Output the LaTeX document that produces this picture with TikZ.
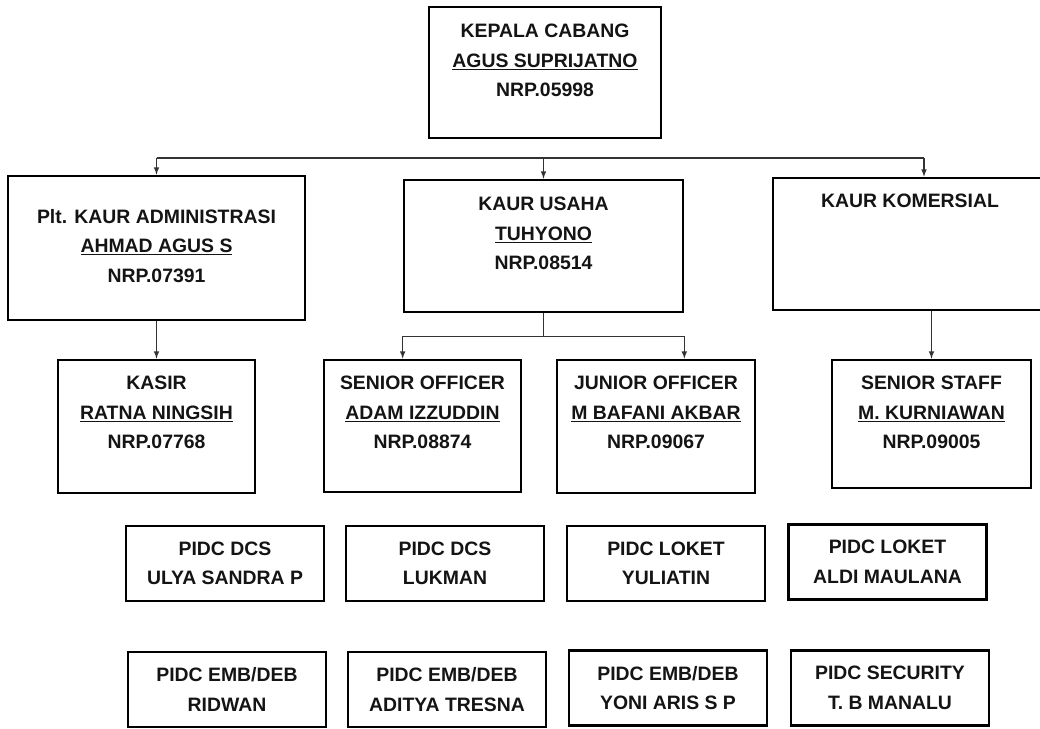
\documentclass[tikz,border=0pt]{standalone}
\usepackage{fontspec}
\setmainfont{Liberation Sans}
\usetikzlibrary{arrows, calc, positioning}
\tikzstyle{obox} = [%
  rectangle,
  draw=black,
  line width=1.9pt,
  fill=white,
  inner sep=0pt
]
\tikzstyle{otext} = [%
  align=center,
  inner sep=0pt,
  text=black!92,
  font=\bfseries\fontsize{13.8}{21}\selectfont
]

\begin{document}
\begin{tikzpicture}[%
  >=latex,
  conn/.style={draw=black!80, line width=0.8pt},
  big/.style={obox, minimum width=#1},
  pidc/.style={obox, otext, minimum width=4.95cm, minimum height=1.875cm}
]
  \useasboundingbox (0,0) rectangle (26,-18.225);
  \clip (0,0) rectangle (26,-18.225);

  % Nodes
  \node[big=5.8cm,minimum height=3.275cm] (KC) at (13.625,-1.8125) {};
  \node[big=7.425cm,minimum height=3.6cm] (ADM) at (3.9125,-6.2) {};
  \node[big=6.975cm,minimum height=3.3cm] (USH) at (13.5875,-6.15) {};
  \node[big=6.85cm,minimum height=3.3cm] (KOM) at (22.75,-6.1) {};
  \node[big=4.925cm,minimum height=3.325cm] (KSR) at (3.9125,-10.6625) {};
  \node[big=4.925cm,minimum height=3.3cm] (SO) at (10.5625,-10.65) {};
  \node[big=4.95cm,minimum height=3.325cm] (JO) at (16.4,-10.6625) {};
  \node[big=4.975cm,minimum height=3.2cm] (SS) at (23.2875,-10.6) {};

  \node[otext,below=0.45cm of KC.north] (KCt) {KEPALA CABANG\\\underline{AGUS SUPRIJATNO}\\NRP.05998};
  \node[otext,below=0.85cm of ADM.north] (ADMt) {Plt. KAUR ADMINISTRASI\\\underline{AHMAD AGUS S}\\NRP.07391};
  \node[otext,below=0.45cm of USH.north] (USHt) {KAUR USAHA\\\underline{TUHYONO}\\NRP.08514};
  \node[otext,below=0.42cm of KOM.north] (KOMt) {KAUR KOMERSIAL};
  \node[otext,below=0.43cm of KSR.north] (KSRt) {KASIR\\\underline{RATNA NINGSIH}\\NRP.07768};
  \node[otext,below=0.43cm of SO.north] (SOt) {SENIOR OFFICER\\\underline{ADAM IZZUDDIN}\\NRP.08874};
  \node[otext,below=0.43cm of JO.north] (JOt) {JUNIOR OFFICER\\\underline{M BAFANI AKBAR}\\NRP.09067};
  \node[otext,below=0.43cm of SS.north] (SSt) {SENIOR STAFF\\\underline{M. KURNIAWAN}\\NRP.09005};

  \node[pidc] (P1) at (5.625,-14.0875) {PIDC DCS\\ULYA SANDRA P};
  \node[pidc] (P2) at (11.125,-14.0875) {PIDC DCS\\LUKMAN};
  \node[pidc] (P3) at (16.65,-14.0875) {PIDC LOKET\\YULIATIN};
  \node[pidc] (P4) at (22.1875,-14.05) {PIDC LOKET\\ALDI MAULANA};
  \node[pidc] (P5) at (5.675,-17.2375) {PIDC EMB/DEB\\RIDWAN};
  \node[pidc] (P6) at (11.175,-17.2375) {PIDC EMB/DEB\\ADITYA TRESNA};
  \node[pidc] (P7) at (16.7,-17.2) {PIDC EMB/DEB\\YONI ARIS S P};
  \node[pidc] (P8) at (22.25,-17.2) {PIDC SECURITY\\T. B MANALU};

  % Upper edges
  \coordinate (BUS) at (13.625,-3.95);
  \coordinate (KOMin) at (23.1,-3.95);
  \draw[conn] (BUS -| ADM.north) -- (KOMin);
  \draw[conn,->] (BUS -| ADM.north) -- (ADM.north);
  \draw[conn,->] (BUS -| USH.north) -- (USH.north);
  \draw[conn,->] (KOMin) -- (KOMin |- KOM.north);

  % Lower edges
  \coordinate (SPLIT) at ($(USH.south)+(0,-0.575)$);
  \draw[conn] (USH.south) -- (SPLIT);
  \draw[conn] (SPLIT -| USH.south west) -- (SPLIT -| USH.south east);
  \draw[conn,->] (SPLIT -| USH.south west) -- (SO.north -| USH.south west);
  \draw[conn,->] (SPLIT -| USH.south east) -- (JO.north -| USH.south east);
  \draw[conn,->] (ADM.south) -- (KSR.north);
  \draw[conn,->] (KOM.south -| SS.north) -- (SS.north);

\end{tikzpicture}
\end{document}
